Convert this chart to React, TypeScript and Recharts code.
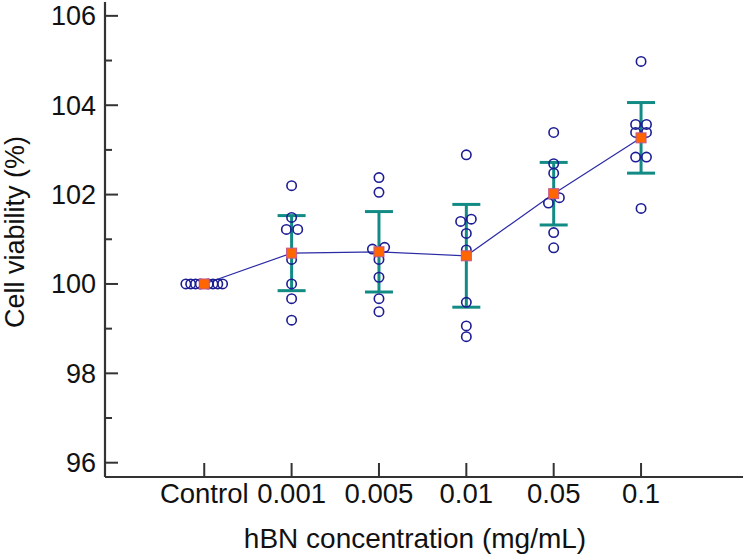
import React from 'react';
import {
  ComposedChart,
  Scatter,
  Line,
  XAxis,
  YAxis,
  ErrorBar,
  Label,
} from 'recharts';

// hBN concentration groups (x index 0..5)
const groups = ['Control', '0.001', '0.005', '0.01', '0.05', '0.1'];

// group mean and SD of cell viability (%)
const means = [100, 100.69, 100.72, 100.63, 102.02, 103.27];
const sds = [0, 0.84, 0.9, 1.15, 0.7, 0.79];

// individual replicates per group
const replicates = [
  [100, 100, 100, 100, 100, 100, 100, 100],
  [102.2, 101.49, 101.22, 101.22, 100.55, 100.0, 99.67, 99.19],
  [102.38, 102.05, 100.78, 100.82, 100.55, 100.15, 99.67, 99.38],
  [102.89, 101.45, 101.4, 101.13, 100.76, 99.59, 99.06, 98.82],
  [103.39, 102.69, 102.48, 101.93, 101.81, 101.15, 100.81],
  [104.98, 103.57, 103.57, 103.39, 103.39, 102.84, 102.84, 101.69],
];

// horizontal spread of the replicates around each group (x units)
const spread = [
  [-0.21, -0.155, -0.1, -0.045, 0.045, 0.1, 0.155, 0.21],
  [0, 0, -0.06, 0.07, 0, 0, 0, 0],
  [0, 0, -0.075, 0.065, 0, 0, 0, 0],
  [0, 0.057, -0.065, 0, 0, 0, 0, 0],
  [0, 0, 0, 0.065, -0.06, 0, 0],
  [0, -0.062, 0.062, -0.062, 0.062, -0.062, 0.062, 0],
];

const yTicks = [96, 97, 98, 99, 100, 101, 102, 103, 104, 105, 106];
const xTicks = [0, 1, 2, 3, 4, 5];

const summary = groups.map((g, i) => ({ x: i, mean: means[i], sd: sds[i] }));
const points = replicates.flatMap((vals, i) =>
  vals.map((v, j) => ({ x: i + spread[i][j], v }))
);

const AXIS = '#333333';
const FONT = 'Arial, "Liberation Sans", sans-serif';

const YTick = ({ x, y, payload }: any) => {
  const v = payload.value;
  const major = v % 2 === 0;
  return (
    <g>
      <line x1={x} x2={x + (major ? 13 : 7)} y1={y} y2={y} stroke={AXIS} strokeWidth={2} />
      {major && (
        <text x={x - 9} y={y + 9.5} textAnchor="end" fontSize={27} fontFamily={FONT} fill="#111">
          {v}
        </text>
      )}
    </g>
  );
};

const XTick = ({ x, y, payload }: any) => (
  <g>
    <line x1={x} x2={x} y1={y} y2={y - 14} stroke={AXIS} strokeWidth={2} />
    <text x={x} y={y + 26} textAnchor="middle" fontSize={27.5} fontFamily={FONT} fill="#111">
      {groups[payload.value]}
    </text>
  </g>
);

const Ring = (p: any) => (
  <circle cx={p.cx} cy={p.cy} r={4.7} fill="none" stroke="#1c1c94" strokeWidth={1.6} />
);

const MeanBox = (p: any) => (
  <rect
    key={`m-${p.index}`}
    x={p.cx - 5}
    y={p.cy - 5}
    width={10}
    height={10}
    fill="#ff6600"
    stroke="#c4568a"
    strokeWidth={1}
  />
);

export default function App() {
  return (
    <div style={{ position: 'absolute', left: 0, top: 0, background: '#fff' }}>
      <ComposedChart width={744} height={557} margin={{ top: 2, right: 1, left: 0, bottom: 0 }}>
        <XAxis
          type="number"
          dataKey="x"
          domain={[-1.136, 6.167]}
          allowDataOverflow
          ticks={xTicks}
          interval={0}
          tickSize={0}
          tickMargin={0}
          tick={<XTick />}
          height={80}
          axisLine={{ stroke: AXIS, strokeWidth: 2.2 }}
          tickLine={false}
        >
          <Label
            value="hBN concentration (mg/mL)"
            content={() => (
              <text x={415} y={548} textAnchor="middle" fontSize={28} fontFamily={FONT} fill="#111">
                hBN concentration (mg/mL)
              </text>
            )}
          />
        </XAxis>
        <YAxis
          type="number"
          domain={[95.68, 106.31]}
          allowDataOverflow
          ticks={yTicks}
          interval={0}
          tickSize={0}
          tickMargin={0}
          tick={<YTick />}
          width={105}
          axisLine={{ stroke: AXIS, strokeWidth: 2.2 }}
          tickLine={false}
        >
          <Label
            value="Cell viability (%)"
            content={() => (
              <text
                x={24}
                y={232}
                transform="rotate(-90, 24, 232)"
                textAnchor="middle"
                fontSize={27}
                fontFamily={FONT}
                fill="#111"
              >
                Cell viability (%)
              </text>
            )}
          />
        </YAxis>
        <Scatter data={points} dataKey="v" shape={<Ring />} isAnimationActive={false} />
        <Scatter data={summary} dataKey="mean" shape={() => <g />} isAnimationActive={false}>
          <ErrorBar dataKey="sd" direction="y" width={14} stroke="#138b85" strokeWidth={3} />
        </Scatter>
        <Line
          data={summary}
          dataKey="mean"
          stroke="#2b2ba6"
          strokeWidth={1.2}
          dot={<MeanBox />}
          activeDot={false}
          isAnimationActive={false}
        />
      </ComposedChart>
    </div>
  );
}
